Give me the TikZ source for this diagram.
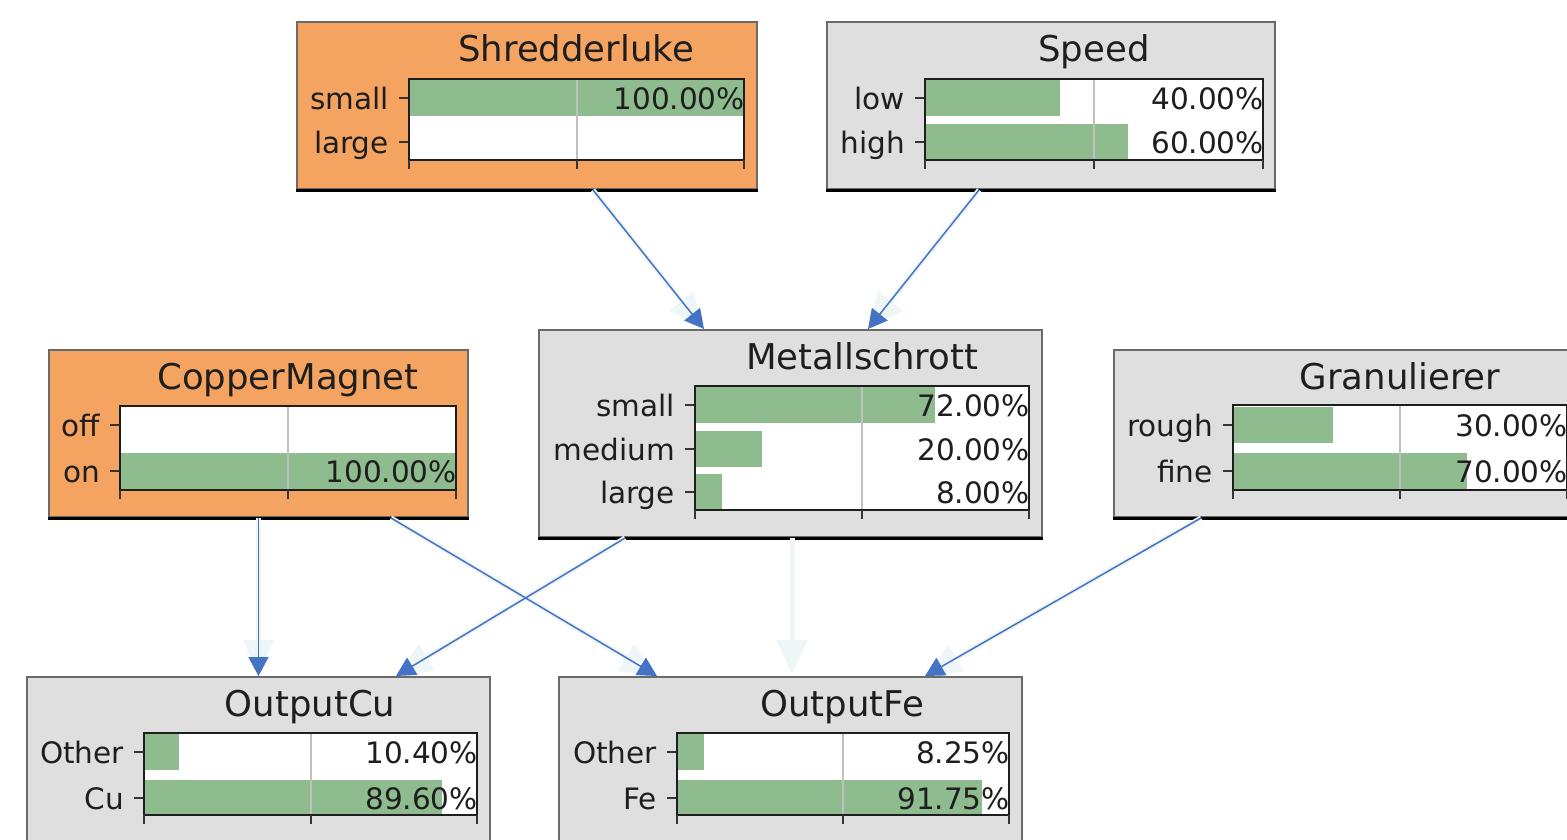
\documentclass[tikz,border=0pt]{standalone}
\usepackage{fontspec}
\setmainfont{DejaVu Sans}
\usetikzlibrary{arrows.meta,calc}

\definecolor{nodeorange}{HTML}{F4A460}
\definecolor{nodegray}{HTML}{DFDFDF}
\definecolor{bargreen}{HTML}{8FBC8F}
\definecolor{gridgray}{HTML}{C0C0C0}
\definecolor{linkblue}{HTML}{4472C4}
\definecolor{linkghost}{HTML}{EEF6F8}
\definecolor{framegray}{HTML}{6A6A6A}
\definecolor{inkdark}{HTML}{1E1E1E}

\tikzset{
  netbox/.style={draw=framegray, line width=2pt, inner sep=0pt, anchor=north west},
  orangebox/.style={netbox, fill=nodeorange},
  graybox/.style={netbox, fill=nodegray},
  titletext/.style={inner sep=0pt, anchor=base, text=inkdark, font=\fontsize{35.5pt}{40pt}\selectfont},
  lbltext/.style={inner sep=0pt, anchor=base east, text=inkdark, font=\fontsize{29.5pt}{34pt}\selectfont},
  pcttext/.style={lbltext},
  tickline/.style={draw=inkdark!90, line width=2pt},
  gridline/.style={draw=gridgray, line width=2pt},
  chartframe/.style={draw=inkdark, line width=2.5pt},
  link/.style={draw=linkblue, line width=1.5pt, -{Triangle[length=19pt,width=20pt]}},
  ghostlink/.style={draw=linkghost, line width=5pt, -{Triangle[length=34pt,width=30pt]}, shorten >=2pt},
}

% white plotting area of a chart: left, top, right, bottom
\newcommand\netchartbg[4]{\fill[white] (#1,#2) rectangle (#3,#4);}
% grid line, frame and axis ticks of a chart: left, top, right, bottom
\newcommand\netchartfg[4]{%
  \draw[gridline] ({(#1+#3)/2},#2) -- ({(#1+#3)/2},#4);
  \draw[chartframe] (#1,#2) rectangle (#3,#4);
  \draw[tickline] (#1,#4) -- (#1,{#4+9});
  \draw[tickline] ({(#1+#3)/2},#4) -- ({(#1+#3)/2},{#4+9});
  \draw[tickline] (#3,#4) -- (#3,{#4+9});
}
% one state row: name, left, right, row centre, fraction, state, percentage
\newcommand\netrow[7]{%
  \fill[bargreen] (#2,{#4-18}) rectangle ({#2+#5*(#3-#2)},{#4+18});
  \draw[tickline] ({#2-10},#4) -- (#2,#4);
  \node[lbltext] (#1-lbl) at ({#2-20},{#4+11}) {#6};
  \node[pcttext] (#1-pct) at ({#3+1},{#4+11}) {#7};
}

\begin{document}
\begin{tikzpicture}[x=1pt,y=-1pt]
\useasboundingbox (0,0) rectangle (1567,839);
\fill[white] (0,0) rectangle (1567,839);

% ---------------- Shredderluke ----------------
\node[orangebox, minimum width=460pt, minimum height=167pt] (shred) at (296,21) {};
\draw[black, line width=3pt] (shred.south west) -- (shred.south east);
\node[titletext] (shred-t) at (576,61) {Shredderluke};
\netchartbg{409}{79}{744}{160}
\netrow{shred-a}{409}{744}{98}{1}{small}{100.00\%}
\netrow{shred-b}{409}{744}{142}{0}{large}{}
\netchartfg{409}{79}{744}{160}

% ---------------- Speed ----------------
\node[graybox, minimum width=448pt, minimum height=167pt] (speed) at (826,21) {};
\draw[black, line width=3pt] (speed.south west) -- (speed.south east);
\node[titletext] (speed-t) at (1094,61) {Speed};
\netchartbg{925}{79}{1263}{160}
\netrow{speed-a}{925}{1263}{98}{0.4}{low}{40.00\%}
\netrow{speed-b}{925}{1263}{142}{0.6}{high}{60.00\%}
\netchartfg{925}{79}{1263}{160}

% ---------------- CopperMagnet ----------------
\node[orangebox, minimum width=419pt, minimum height=167pt] (cm) at (48,349) {};
\draw[black, line width=3pt] (cm.south west) -- (cm.south east);
\node[titletext] (cm-t) at (288,389) {CopperMagnet};
\netchartbg{120}{406}{456}{490}
\netrow{cm-a}{120}{456}{425}{0}{off}{}
\netrow{cm-b}{120}{456}{471}{1}{on}{100.00\%}
\netchartfg{120}{406}{456}{490}

% ---------------- Metallschrott ----------------
\node[graybox, minimum width=503pt, minimum height=207pt] (met) at (538,329) {};
\draw[black, line width=3pt] (met.south west) -- (met.south east);
\node[titletext] (met-t) at (862,369) {Metallschrott};
\netchartbg{695}{386}{1029}{510}
\netrow{met-a}{695}{1029}{405}{0.72}{small}{72.00\%}
\netrow{met-b}{695}{1029}{449}{0.20}{medium}{20.00\%}
\netrow{met-c}{695}{1029}{492}{0.08}{large}{8.00\%}
\netchartfg{695}{386}{1029}{510}

% ---------------- Granulierer ----------------
\node[graybox, minimum width=487pt, minimum height=167pt] (gran) at (1113,349) {};
\draw[black, line width=3pt] (gran.south west) -- (gran.south east);
\node[titletext] (gran-t) at (1400,389) {Granulierer};
\netchartbg{1233}{405}{1567}{490}
\netrow{gran-a}{1233}{1567}{425}{0.3}{rough}{30.00\%}
\netrow{gran-b}{1233}{1567}{471}{0.7}{fine}{70.00\%}
\netchartfg{1233}{405}{1567}{490}

% ---------------- OutputCu ----------------
\node[graybox, minimum width=463pt, minimum height=184pt] (outcu) at (26,676) {};
\node[titletext] (outcu-t) at (310,716) {OutputCu};
\netchartbg{144}{733}{477}{815}
\netrow{outcu-a}{144}{477}{752}{0.104}{Other}{10.40\%}
\netrow{outcu-b}{144}{477}{798}{0.896}{Cu}{89.60\%}
\netchartfg{144}{733}{477}{815}

% ---------------- OutputFe ----------------
\node[graybox, minimum width=463pt, minimum height=184pt] (outfe) at (558,676) {};
\node[titletext] (outfe-t) at (842,716) {OutputFe};
\netchartbg{677}{733}{1009}{815}
\netrow{outfe-a}{677}{1009}{752}{0.0825}{Other}{8.25\%}
\netrow{outfe-b}{677}{1009}{798}{0.9175}{Fe}{91.75\%}
\netchartfg{677}{733}{1009}{815}

% ---------------- links: pale halos ----------------
\draw[ghostlink] ([xshift=66pt]shred.south) -- ([xshift=-86.5pt]met.north);
\draw[ghostlink] ([xshift=-72pt]speed.south) -- ([xshift=77.5pt]met.north);
\draw[ghostlink] (cm.south) -- (outcu.north);
\draw[ghostlink] ([xshift=132.5pt]cm.south) -- ([xshift=-133.5pt]outfe.north);
\draw[ghostlink] ([xshift=-165.5pt]met.south) -- ([xshift=137.5pt]outcu.north);
\draw[ghostlink] ([xshift=1.5pt]met.south) -- ([xshift=1.5pt]outfe.north);
\draw[ghostlink] ([xshift=-156.5pt]gran.south) -- ([xshift=134.5pt]outfe.north);

% ---------------- links ----------------
\draw[link] ([xshift=66pt]shred.south) -- ([xshift=-86.5pt]met.north);
\draw[link] ([xshift=-72pt]speed.south) -- ([xshift=77.5pt]met.north);
\draw[link] (cm.south) -- (outcu.north);
\draw[link] ([xshift=132.5pt]cm.south) -- ([xshift=-133.5pt]outfe.north);
\draw[link] ([xshift=-165.5pt]met.south) -- ([xshift=137.5pt]outcu.north);
\draw[link] ([xshift=-156.5pt]gran.south) -- ([xshift=134.5pt]outfe.north);
\end{tikzpicture}
\end{document}
